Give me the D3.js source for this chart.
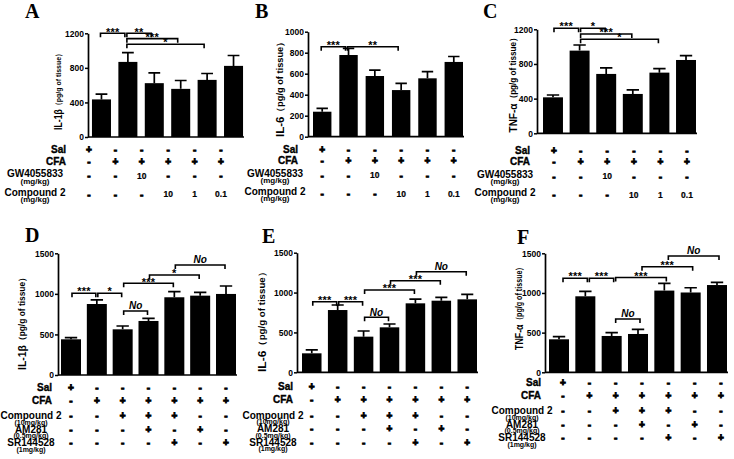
<!DOCTYPE html>
<html><head><meta charset="utf-8">
<script src="https://cdn.jsdelivr.net/npm/d3@7"></script>
<style>body{margin:0;background:#fff}svg{display:block}</style>
</head><body><svg id="c" width="734" height="459"></svg>
<script>
// ---------- DATA ----------
const valuesA = [435, 869, 623, 557, 661, 823];
const errorsA = [61, 108, 119, 97, 74, 120];
const valuesB = [238, 778, 578, 444, 556, 712];
const errorsB = [32, 63, 57, 64, 63, 52];
const valuesC = [415, 954, 685, 454, 700, 846];
const errorsC = [27, 65, 69, 46, 46, 50];
const valuesD = [440, 875, 563, 666, 958, 978, 999];
const errorsD = [20, 50, 41, 33, 69, 41, 98];
const valuesE = [238, 781, 447, 564, 865, 898, 915];
const errorsE = [42, 63, 71, 42, 54, 42, 63];
const valuesF = [416, 958, 458, 483, 1030, 1006, 1100];
const errorsF = [34, 62, 42, 59, 92, 60, 34];

const ticksA = [0, 400, 800, 1200];
const ticksB = [0, 200, 400, 600, 800, 1000];
const ticksC = [0, 400, 800, 1200];
const ticksDEF = [0, 500, 1000, 1500];

// brackets: [from bar, to bar, level (data units), label]
const bracketsA = [[0,1,1200,"***"],[1,2,1200,"**"],[1,3,1138,"***"],[1,4,1073,"*"]];
const bracketsB = [[0,1,857,"***"],[1,3,857,"**"]];
const bracketsC = [[0,1,1212,"***"],[1,2,1212,"*"],[1,3,1146,"***"],[1,4,1085,"*"]];
const bracketsD = [[0,1,1007,"***"],[1,2,1007,"*"],[2,3,789,"No"],[2,4,1130,"***"],[3,5,1233,"*"],[4,6,1356,"No"]];
const bracketsE = [[0,1,885,"***"],[1,2,885,"***"],[2,3,690,"No"],[2,4,1032,"***"],[3,5,1149,"***"],[4,6,1262,"No"]];
const bracketsF = [[0,1,1185,"***"],[1,2,1185,"***"],[2,3,672,"No"],[2,4,1195,"***"],[3,5,1331,"***"],[4,6,1466,"No"]];

// treatment tables
const rowLabelsTop = ["Sal", "CFA", "GW4055833", "Compound 2"];
const rowSubsTop = [null, null, "(mg/kg)", "(mg/kg)"];
const salTop  = ["+","-","-","-","-","-"];
const cfaTop  = ["-","+","+","+","+","+"];
const gwTop   = ["-","-","10","-","-","-"];
const compTop = ["-","-","-","10","1","0.1"];

const rowLabelsBot = ["Sal", "CFA", "Compound 2", "AM281", "SR144528"];
const rowSubsBot = [null, null, "(10mg/kg)", "(0.5mg/kg)", "(1mg/kg)"];
const salBot  = ["+","-","-","-","-","-","-"];
const cfaBot  = ["-","+","+","+","+","+","+"];
const compBot = ["-","-","+","+","+","-","-"];
const amBot   = ["-","-","-","+","-","+","-"];
const srBot   = ["-","-","-","-","+","-","+"];

const titleMain = ["IL-1β", "IL-6", "TNF-α", "IL-1β", "IL-6", "TNF-α"];
const titleUnit = "（pg/g of tissue）";
const letters = ["A","B","C","D","E","F"];

// ---------- LAYOUT ----------
const topRowsY = [0, 11.5, 24, 42.5], topSubY = [0,0,31.5,49.5], topValY = [0, 11.5, 26, 44.5];
const botRowsY = [0, 13, 28.5, 42, 55.5], botSubY = [0,0,35,48.5,62], botValY = [0, 13, 28.5, 42, 55.5];

const panels = [
 {values:valuesA, errors:errorsA, ticks:ticksA, yMax:1200, brackets:bracketsA, bdx:-2,
  x0:88, x1:247, pi:0.28, po:0.15, y0:137, yTop:33.3,
  letter:[25,18], title:[58,90,80,10,8],
  table:{labels:rowLabelsTop, subs:rowSubsTop, rows:[salTop,cfaTop,gwTop,compTop], ry:topRowsY, sy:topSubY, vy:topValY, xr:66, xc:35, base:149.5, off:-12.5}},
 {values:valuesB, errors:errorsB, ticks:ticksB, yMax:1000, brackets:bracketsB, bdx:-2,
  x0:308, x1:468, pi:0.30, po:0.19, y0:136.7, yTop:31.7,
  letter:[255,18], title:[280,87,100,10.5,8.5],
  table:{labels:rowLabelsTop, subs:rowSubsTop, rows:[salTop,cfaTop,gwTop,compTop], ry:topRowsY, sy:topSubY, vy:topValY, xr:298, xc:275, base:149, off:0}},
 {values:valuesC, errors:errorsC, ticks:ticksC, yMax:1200, brackets:bracketsC, bdx:0,
  x0:537, x1:702, pi:0.25, po:0.226, y0:133.3, yTop:29.3,
  letter:[483,18], title:[513,83,99,10.5,8.5],
  table:{labels:rowLabelsTop, subs:rowSubsTop, rows:[salTop,cfaTop,gwTop,compTop], ry:topRowsY, sy:topSubY, vy:topValY, xr:530, xc:505, base:150, off:1}},
 {values:valuesD, errors:errorsD, ticks:ticksDEF, yMax:1500, brackets:bracketsD, bdx:0,
  x0:58, x1:239, pi:0.226, po:0.116, y0:375, yTop:253.3,
  letter:[25,242], title:[22,321.5,97,10.5,8.5],
  table:{labels:rowLabelsBot, subs:rowSubsBot, rows:[salBot,cfaBot,compBot,amBot,srBot], ry:botRowsY, sy:botSubY, vy:botValY, xr:52, xc:31, base:387, off:0}},
 {values:valuesE, errors:errorsE, ticks:ticksDEF, yMax:1500, brackets:bracketsE, bdx:0,
  x0:297, x1:482, pi:0.247, po:0.193, y0:372.3, yTop:252.7,
  letter:[262,243], title:[262,319.5,105,10.5,8.5],
  table:{labels:rowLabelsBot, subs:rowSubsBot, rows:[salBot,cfaBot,compBot,amBot,srBot], ry:botRowsY, sy:botSubY, vy:botValY, xr:293, xc:273, base:386.5, off:0}},
 {values:valuesF, errors:errorsF, ticks:ticksDEF, yMax:1500, brackets:bracketsF, bdx:3,
  x0:545, x1:731, pi:0.24, po:0.152, y0:372.3, yTop:253.3,
  letter:[517,244], title:[519,306.5,87,10.5,8.5],
  table:{labels:rowLabelsBot, subs:rowSubsBot, rows:[salBot,cfaBot,compBot,amBot,srBot], ry:botRowsY, sy:botSubY, vy:botValY, xr:541, xc:522, base:382, off:4}}
];

const svg = d3.select("#c");
const FONT = "'Liberation Sans', Arial, sans-serif";

panels.forEach((p, k) => {
  const g = svg.append("g");
  const n = p.values.length;
  const x = d3.scaleBand().domain(d3.range(n)).range([p.x0, p.x1]).paddingInner(p.pi).paddingOuter(p.po);
  const y = d3.scaleLinear().domain([0, p.yMax]).range([p.y0, p.yTop]);
  const bw = x.bandwidth();
  const cx = i => x(i) + bw / 2;

  // bars
  g.selectAll("rect.bar").data(p.values).join("rect")
    .attr("x", (d, i) => x(i)).attr("y", d => y(d))
    .attr("width", bw).attr("height", d => p.y0 - y(d)).attr("fill", "#000");

  // error bars (upper)
  const cap = bw * 0.62;
  g.selectAll("path.err").data(p.values).join("path")
    .attr("d", (d, i) => `M${cx(i)},${y(d)}V${y(d + p.errors[i])}M${cx(i) - cap / 2},${y(d + p.errors[i])}H${cx(i) + cap / 2}`)
    .attr("stroke", "#000").attr("stroke-width", 1.7).attr("fill", "none");

  // y axis
  const ax = g.append("g").attr("transform", `translate(${p.x0},0)`)
    .call(d3.axisLeft(y).tickValues(p.ticks).tickSize(3).tickSizeOuter(0).tickPadding(1).tickFormat(d3.format("d")));
  ax.select(".domain").attr("stroke-width", 1.7);
  ax.selectAll(".tick line").attr("stroke-width", 1.5);
  ax.selectAll("text").attr("font-family", FONT).attr("font-weight", "bold").attr("font-size", 8.5).attr("fill", "#000");

  // x axis baseline
  g.append("line").attr("x1", p.x0).attr("x2", x(n - 1) + bw + 1).attr("y1", p.y0).attr("y2", p.y0)
    .attr("stroke", "#000").attr("stroke-width", 1.7);

  // significance brackets
  p.brackets.forEach(([a, b, lv, lab]) => {
    const xa = cx(a) + p.bdx + 1, xb = cx(b) + p.bdx - 1, yy = y(lv);
    g.append("path").attr("d", `M${xa},${yy + 4}V${yy}H${xb}V${yy + 4}`)
      .attr("stroke", "#000").attr("stroke-width", 1.6).attr("fill", "none");
    const isNo = lab === "No";
    g.append("text").attr("x", (xa + xb) / 2).attr("y", isNo ? yy - 1.5 : yy + 2.2)
      .attr("text-anchor", "middle").attr("font-family", FONT).attr("font-weight", "bold")
      .attr("font-style", isNo ? "italic" : "normal").attr("font-size", isNo ? 10 : 11)
      .attr("letter-spacing", isNo ? 0 : 0.2).text(lab);
  });

  // y title
  const [tx, ty, tl, fs1, fs2] = p.title;
  const t = g.append("text").attr("transform", `translate(${tx},${ty}) rotate(-90)`)
    .attr("text-anchor", "middle").attr("dominant-baseline", "central")
    .attr("font-family", FONT).attr("font-weight", "bold")
    .attr("textLength", tl).attr("lengthAdjust", "spacingAndGlyphs");
  t.append("tspan").attr("font-size", fs1).text(titleMain[k]);
  t.append("tspan").attr("font-size", fs2).text(titleUnit);

  // panel letter
  g.append("text").attr("x", p.letter[0]).attr("y", p.letter[1])
    .attr("font-family", "'Liberation Serif', 'Times New Roman', serif").attr("font-size", 20)
    .attr("font-weight", "bold").text(letters[k]);

  // treatment table
  const tb = p.table;
  tb.labels.forEach((lab, r) => {
    const right = r < 2;
    g.append("text").attr("x", right ? tb.xr : tb.xc).attr("y", tb.base + tb.ry[r])
      .attr("text-anchor", right ? "end" : "middle").attr("dominant-baseline", "central")
      .attr("font-family", FONT).attr("font-weight", "bold").attr("font-size", 10)
      .attr("stroke", right ? "#000" : "none").attr("stroke-width", 0.35).text(lab);
    if (tb.subs[r]) {
      g.append("text").attr("x", tb.xc).attr("y", tb.base + tb.sy[r])
        .attr("text-anchor", "middle").attr("dominant-baseline", "central")
        .attr("font-family", FONT).attr("font-weight", "bold")
        .attr("font-size", tb.subs[r] === "(mg/kg)" ? 8 : 7).text(tb.subs[r]);
    }
    g.selectAll(null).data(tb.rows[r]).join("text")
      .attr("x", (d, i) => cx(i) + tb.off).attr("y", tb.base + tb.vy[r])
      .attr("text-anchor", "middle").attr("dominant-baseline", "central")
      .attr("font-family", FONT).attr("font-weight", "bold")
      .attr("font-size", d => (d === "+" || d === "-") ? 10 : 8.5)
      .attr("stroke", "#000").attr("stroke-width", d => (d === "+" || d === "-") ? 0.9 : 0.2)
      .text(d => d);
  });
});
</script></body></html>
